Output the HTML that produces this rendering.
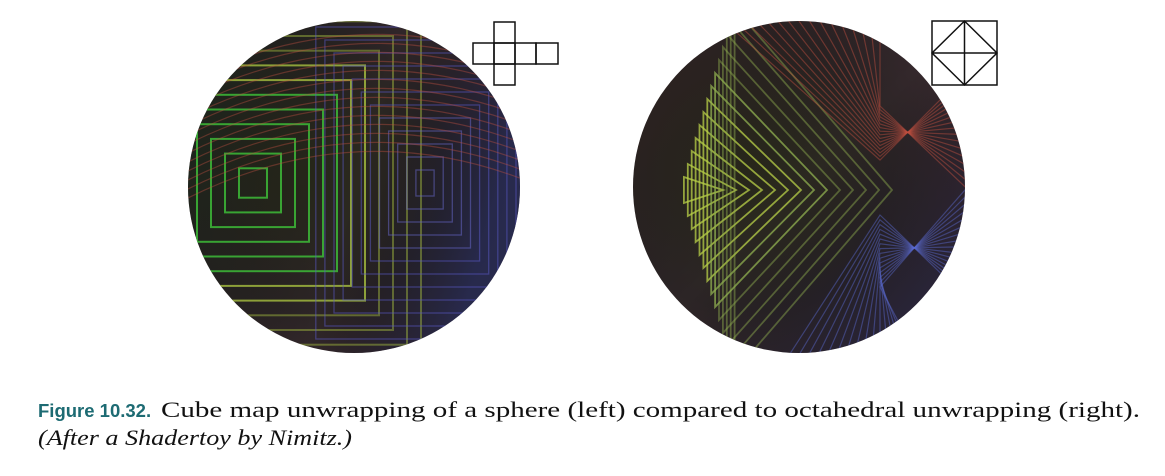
<!DOCTYPE html>
<html><head><meta charset="utf-8"><style>
body{margin:0;background:#fff;width:1165px;height:476px;overflow:hidden;position:relative}
.cap{position:absolute;font-family:"Liberation Serif",serif;font-size:22px;color:#111;white-space:nowrap;transform-origin:0 0}
.fig{position:absolute;left:38px;top:400px;font-family:"Liberation Sans",sans-serif;font-weight:bold;color:#1d6b73;font-size:18.5px}
</style></head><body>
<svg width="1165" height="476" style="position:absolute;left:0;top:0">
<defs>
<radialGradient id="gL" cx="0.35" cy="0.45" r="0.7">
<stop offset="0" stop-color="#2a2a1c"/><stop offset="0.6" stop-color="#2c2526"/><stop offset="1" stop-color="#3a2a30"/></radialGradient>
<linearGradient id="shadeL" x1="0" y1="0" x2="1" y2="0.3"><stop offset="0" stop-color="#0f2a14" stop-opacity="0.5"/><stop offset="0.6" stop-color="#000" stop-opacity="0"/><stop offset="1" stop-color="#1e2a60" stop-opacity="0.6"/></linearGradient>
<linearGradient id="shadeR" x1="0" y1="0" x2="1" y2="1"><stop offset="0" stop-color="#3a2420" stop-opacity="0.4"/><stop offset="0.5" stop-color="#000" stop-opacity="0"/><stop offset="1" stop-color="#1e2a60" stop-opacity="0.6"/></linearGradient>
<clipPath id="cL"><circle cx="354" cy="187" r="166"/></clipPath>
<clipPath id="cR"><circle cx="799" cy="187" r="166"/></clipPath>
</defs>
<g>
<circle cx="354" cy="187" r="166" fill="url(#gL)"/>
<circle cx="354" cy="187" r="166" fill="url(#shadeL)"/>
<g clip-path="url(#cL)" fill="none" stroke-width="2">
<g id="lsq"></g>
</g>
</g>
<g>
<circle cx="799" cy="187" r="166" fill="url(#gL)"/>
<circle cx="799" cy="187" r="166" fill="url(#shadeR)"/>
<g clip-path="url(#cR)" fill="none" stroke-width="1.8">
<g id="rsq"></g>
</g>
</g>
<g fill="none" stroke="#111" stroke-width="1.5">
<rect x="494" y="22" width="21" height="21"/>
<rect x="473" y="43" width="21" height="21"/><rect x="494" y="43" width="21" height="21"/>
<rect x="515" y="43" width="21" height="21"/><rect x="536" y="43" width="22" height="21"/>
<rect x="494" y="64" width="21" height="21"/>
</g>
<g fill="none" stroke="#111" stroke-width="1.5">
<rect x="932" y="21" width="65" height="64"/>
<path d="M964.5 21V85M932 53H997M964.5 21L997 53L964.5 85L932 53Z"/>
</g>
</svg>
<div class="fig">Figure 10.32.</div>
<div class="cap" id="l1" style="left:161px;top:397px">Cube map unwrapping of a sphere (left) compared to octahedral unwrapping (right).</div>
<div class="cap" id="l2" style="left:38px;top:425px;font-style:italic">(After a Shadertoy by Nimitz.)</div>
<script>
function fit(id,w){const e=document.getElementById(id);const cw=e.getBoundingClientRect().width;e.style.transform='scaleX('+(w/cw)+')';}
fit('l1',979);fit('l2',314);
const NS="http://www.w3.org/2000/svg";
const L=document.getElementById('lsq');
for(let i=1;i<=12;i++){const s=i*14;const r=document.createElementNS(NS,'rect');
r.setAttribute('x',253-s);r.setAttribute('y',183-s*1.05);r.setAttribute('width',2*s);r.setAttribute('height',2.1*s);
const g=i<7?'#3fc43a':'#a8c040';r.setAttribute('stroke',g);r.setAttribute('stroke-opacity',i<9?0.8:0.45);


L.appendChild(r);}
for(let i=1;i<=12;i++){const s=i*13;const r=document.createElementNS(NS,'rect');
r.setAttribute('x',425-s*0.7);r.setAttribute('y',183-s);r.setAttribute('width',1.4*s);r.setAttribute('height',2*s);
r.setAttribute('stroke',i<6?'#6a6ad0':'#5a5ac8');r.setAttribute('stroke-opacity',0.5);r.setAttribute('stroke-width',1.3);


L.appendChild(r);}
for(let i=0;i<14;i++){const p=document.createElementNS(NS,'path');const y=25+i*9;
p.setAttribute('d',`M180 ${y+60} Q354 ${y-30} 530 ${y+40}`);p.setAttribute('stroke','#c05040');p.setAttribute('stroke-opacity',0.4);p.setAttribute('stroke-width',1.2);


L.appendChild(p);}
const R=document.getElementById('rsq');
for(let i=1;i<=14;i++){const s=i*13;const p=document.createElementNS(NS,'path');
p.setAttribute('d',`M${680+s*0.3} ${190-s} L${710+s} 190 L${680+s*0.3} ${190+s} Z`);
p.setAttribute('stroke',i<8?'#b8d048':'#90b050');p.setAttribute('stroke-opacity',i<10?0.75:0.45);


R.appendChild(p);}
for(let i=0;i<16;i++){const p=document.createElementNS(NS,'path');const d=i*12;
p.setAttribute('d',`M${700+d} 0 L${880} ${160-d*0.3} L${1000} ${40+d}`);p.setAttribute('stroke','#c05040');p.setAttribute('stroke-opacity',0.45);p.setAttribute('stroke-width',1.2);


R.appendChild(p);
const q=document.createElementNS(NS,'path');
q.setAttribute('d',`M${760+d} 400 L${880} ${215+d*0.4} L${1000} ${330-d}`);q.setAttribute('stroke','#5a6ad0');q.setAttribute('stroke-opacity',0.45);q.setAttribute('stroke-width',1.2);


R.appendChild(q);}
</script>
</body></html>
